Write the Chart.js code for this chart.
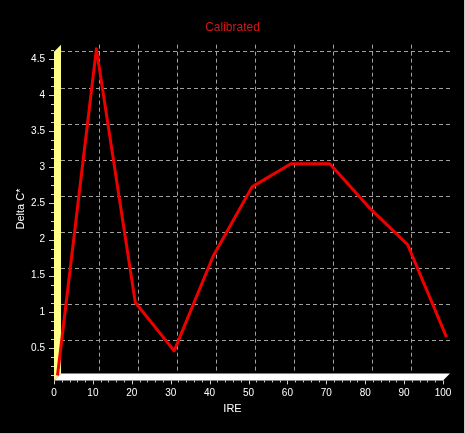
<!DOCTYPE html>
<html>
<head>
<meta charset="utf-8">
<title>Calibrated</title>
<script src="https://cdn.jsdelivr.net/npm/chart.js@4.4.0/dist/chart.umd.min.js"></script>
<style>
  html, body { margin: 0; padding: 0; background: #000; }
  canvas { display: block; }
</style>
</head>
<body>
<canvas id="chart" width="465" height="434"></canvas>
<script>
// values
const ireSteps = [0, 10, 20, 30, 40, 50, 60, 70, 80, 90, 100];
const deltaC = [0.07, 4.59, 1.08, 0.41, 1.72, 2.68, 3.0, 3.0, 2.4, 1.88, 0.6];
const xTicks = [0, 10, 20, 30, 40, 50, 60, 70, 80, 90, 100];
const yTicks = [0.5, 1, 1.5, 2, 2.5, 3, 3.5, 4, 4.5];
const yMin = 0.05;
const yMax = 4.6;

const DEPTH = 7; // depth of the fake 3d walls, px
const FONT = "'Liberation Sans', Arial, sans-serif";
Chart.defaults.font.family = FONT;

// yellow left wall, white floor, front tick marks, IRE label, panel edge
const walls = {
  id: 'walls',
  beforeDatasetsDraw(chart) {
    const ctx = chart.ctx, a = chart.chartArea;
    ctx.save();
    ctx.fillStyle = '#ffff88';
    ctx.beginPath();
    ctx.moveTo(a.left - DEPTH, a.top + DEPTH);
    ctx.lineTo(a.left, a.top);
    ctx.lineTo(a.left, a.bottom);
    ctx.lineTo(a.left - DEPTH, a.bottom + DEPTH);
    ctx.closePath();
    ctx.fill();
    ctx.fillStyle = '#ffffff';
    ctx.beginPath();
    ctx.moveTo(a.left - DEPTH, a.bottom + DEPTH);
    ctx.lineTo(a.left, a.bottom);
    ctx.lineTo(a.right, a.bottom);
    ctx.lineTo(a.right - DEPTH, a.bottom + DEPTH);
    ctx.closePath();
    ctx.fill();
    ctx.restore();
    // the series sits half way into the depth
    ctx.save();
    ctx.translate(-DEPTH / 2, DEPTH / 2);
  },
  afterDatasetsDraw(chart) {
    chart.ctx.restore();
  },
  afterDraw(chart) {
    const ctx = chart.ctx, a = chart.chartArea;
    const xs = chart.scales.x, ys = chart.scales.y;
    ctx.save();
    ctx.strokeStyle = '#d0d0d0';
    ctx.lineWidth = 1;
    ctx.beginPath();
    // y ticks, minor every 0.125
    for (let i = 1; i * 0.125 <= yMax + 0.03; i++) {
      const py = Math.round(ys.getPixelForValue(i * 0.125) + DEPTH) + 0.5;
      const len = i % 4 === 0 ? 5 : 3;
      ctx.moveTo(a.left - DEPTH - len, py);
      ctx.lineTo(a.left - DEPTH, py);
    }
    // x ticks, minor every 2
    for (let i = 0; i <= 50; i++) {
      const px = Math.round(xs.getPixelForValue(i * 2) - DEPTH) + 0.5;
      const len = i % 5 === 0 ? 4 : 2;
      ctx.moveTo(px, a.bottom + DEPTH);
      ctx.lineTo(px, a.bottom + DEPTH + len);
    }
    ctx.stroke();

    ctx.fillStyle = '#ffffff';
    ctx.font = '11px ' + FONT;
    ctx.textAlign = 'center';
    ctx.textBaseline = 'middle';
    ctx.fillText('IRE', chart.width / 2, 409);

    ctx.fillStyle = '#c8c8c8';
    ctx.fillRect(chart.width - 1, 0, 1, chart.height);
    ctx.fillRect(0, chart.height - 1, chart.width, 1);
    ctx.restore();
  }
};

const points = ireSteps.map((x, i) => ({ x: x, y: deltaC[i] }));

new Chart(document.getElementById('chart'), {
  type: 'line',
  data: {
    datasets: [{
      label: 'Calibrated',
      data: points,
      borderColor: '#ee0000',
      borderWidth: 3,
      borderJoinStyle: 'round',
      pointRadius: 0,
      tension: 0,
      clip: false
    }]
  },
  options: {
    responsive: false,
    animation: false,
    layout: { padding: 0 },
    plugins: {
      legend: { display: false },
      tooltip: { enabled: false },
      title: {
        display: true,
        text: 'Calibrated',
        color: '#d01818',
        font: { size: 12, weight: 'normal' },
        padding: { top: 20, bottom: 10.25 }
      }
    },
    scales: {
      x: {
        type: 'linear',
        min: 0,
        max: 100,
        afterBuildTicks: s => { s.ticks = xTicks.map(v => ({ value: v })); },
        afterFit: s => { s.height = 60.6; },
        grid: {
          color: c => (c.tick && (c.tick.value === 0 || c.tick.value === 100)) ? 'rgba(0,0,0,0)' : '#a0a0a0',
          tickColor: 'rgba(0,0,0,0)',
          tickLength: 14
        },
        border: { display: false, dash: [4, 3] },
        ticks: {
          color: '#ffffff',
          font: { size: 10 },
          padding: 0,
          labelOffset: -DEPTH,
          maxRotation: 0,
          autoSkip: false
        }
      },
      y: {
        min: yMin,
        max: yMax,
        afterBuildTicks: s => { s.ticks = yTicks.map(v => ({ value: v })); },
        afterFit: s => { s.width = 61; },
        grid: { color: '#a0a0a0', drawTicks: false },
        border: { display: false, dash: [4, 3] },
        ticks: {
          color: '#ffffff',
          font: { size: 10 },
          padding: 16,
          labelOffset: DEPTH,
          callback: v => String(v)
        },
        title: {
          display: true,
          text: 'Delta C*',
          color: '#ffffff',
          font: { size: 11 },
          padding: { top: 14, bottom: 0 }
        }
      },
      // empty right margin so the title centres on the whole panel
      y2: {
        position: 'right',
        grid: { display: false },
        border: { display: false },
        ticks: { display: false },
        afterFit: s => { s.width = 15; }
      }
    }
  },
  plugins: [walls]
});
</script>
</body>
</html>
